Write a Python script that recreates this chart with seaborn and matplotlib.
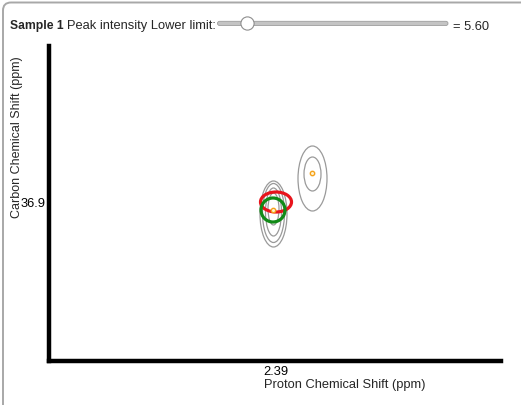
import matplotlib
matplotlib.use("Agg")
import matplotlib.pyplot as plt
from matplotlib.patches import Ellipse, FancyBboxPatch, Circle
from matplotlib.transforms import IdentityTransform
import seaborn as sns
import pandas as pd

# ---- data (ppm) ----
peak_x = [2.3875, 2.4265]
peak_y = [36.82, 37.19]

# contour levels: centre x, centre y, half-width (ppm), half-height (ppm)
contour_cx = [2.388, 2.388, 2.388, 2.388, 2.427, 2.427]
contour_cy = [36.78, 36.79, 36.80, 36.83, 37.135, 37.18]
contour_hw = [0.0135, 0.011, 0.008, 0.0055, 0.0145, 0.0085]
contour_hh = [0.33, 0.295, 0.24, 0.16, 0.325, 0.17]

# selection markers
red_center = (2.3905, 36.90)
red_half = (0.0155, 0.10)
green_center = (2.3875, 36.82)
green_half = (0.012, 0.12)

x_ticks = [2.39]
y_ticks = [36.9]
x_tick_labels = ["2.39"]
y_tick_labels = ["36.9"]

sample_name = "Sample 1"
slider_value = "5.60"

# ---- figure ----
sns.set_style("white")
plt.rcParams['font.family'] = ['Liberation Sans', 'DejaVu Sans']

W, H = 521, 406
fig = plt.figure(figsize=(W / 100, H / 100), dpi=100)
fig.patch.set_facecolor("white")

left_px, right_px, top_px, bottom_px = 49, 501, 47, 362
ax = fig.add_axes([left_px / W, (H - bottom_px) / H,
                   (right_px - left_px) / W, (bottom_px - top_px) / H])

xmin = 2.39 + (left_px - 275.5) * 0.001
xmax = 2.39 + (right_px - 275.5) * 0.001
ymin = 36.9 - (bottom_px - 203) * 0.01
ymax = 36.9 - (top_px - 203) * 0.01

for cx, cy, hw, hh in zip(contour_cx, contour_cy, contour_hw, contour_hh):
    ax.add_patch(Ellipse((cx, cy), 2 * hw, 2 * hh, fill=False,
                         edgecolor="#9a9a9a", lw=0.9))

ax.add_patch(Ellipse(red_center, 2 * red_half[0], 2 * red_half[1], fill=False,
                     edgecolor="#e8141c", lw=2.3, zorder=4))
ax.add_patch(Ellipse(green_center, 2 * green_half[0], 2 * green_half[1], fill=False,
                     edgecolor="#118a17", lw=2.3, zorder=5))

df = pd.DataFrame({"x": peak_x, "y": peak_y})
sns.scatterplot(data=df, x="x", y="y", ax=ax, s=10, marker="o",
                facecolor="#fff2d0", edgecolor="#f5a21b", linewidth=1.0, zorder=6)

ax.set_xlim(xmin, xmax)
ax.set_ylim(ymin, ymax)
ax.set_xticks(x_ticks)
ax.set_xticklabels(x_tick_labels)
ax.set_yticks(y_ticks)
ax.set_yticklabels(y_tick_labels)
ax.tick_params(length=0, labelsize=9.3, colors="black")
ax.tick_params(axis="x", pad=3)
ax.tick_params(axis="y", pad=2.5)

for s in ["top", "right"]:
    ax.spines[s].set_visible(False)
for s in ["left", "bottom"]:
    ax.spines[s].set_linewidth(3.2)
    ax.spines[s].set_color("black")

ax.set_xlabel("Proton Chemical Shift (ppm)", fontsize=9.3, va="center")
ax.xaxis.set_label_coords((345 - left_px) / (right_px - left_px),
                          -(385 - bottom_px) / (bottom_px - top_px))
ax.set_ylabel("Carbon Chemical Shift (ppm)", fontsize=9.0, va="center")
ax.yaxis.set_label_coords((17 - left_px) / (right_px - left_px),
                          (bottom_px - 137) / (bottom_px - top_px))

# ---- panel border ----
fig.add_artist(FancyBboxPatch((3, -30), 700, H - 3.5 + 30,
                              boxstyle="round,pad=0,rounding_size=8",
                              transform=IdentityTransform(), fill=False,
                              edgecolor="#a8a8a8", lw=1.4))

# ---- header ----
ty = 1 - 29.5 / H
renderer = fig.canvas.get_renderer()
t1 = fig.text(10 / W, ty, sample_name, fontsize=8.7, fontweight="bold",
              va="baseline", ha="left")
x1 = t1.get_window_extent(renderer).x1 + 3.5
t2 = fig.text(x1 / W, ty, "Peak intensity Lower limit:", fontsize=9.3,
              va="baseline", ha="left")
x2 = t2.get_window_extent(renderer).x1 + 1.5
fig.add_artist(FancyBboxPatch((x2, H - 26.5), 448 - x2, 4.2,
                              boxstyle="round,pad=0,rounding_size=2.1",
                              transform=IdentityTransform(),
                              facecolor="#c4c4c4", edgecolor="#9d9d9d", lw=0.6))
fig.add_artist(Circle((x2 + 30, H - 24.5), 6.6, transform=IdentityTransform(),
                      facecolor="white", edgecolor="#8e8e8e", lw=0.8, zorder=5))
fig.text(453 / W, ty, "= " + slider_value, fontsize=9.3, va="baseline", ha="left")

fig.savefig("out.png", dpi=100)
